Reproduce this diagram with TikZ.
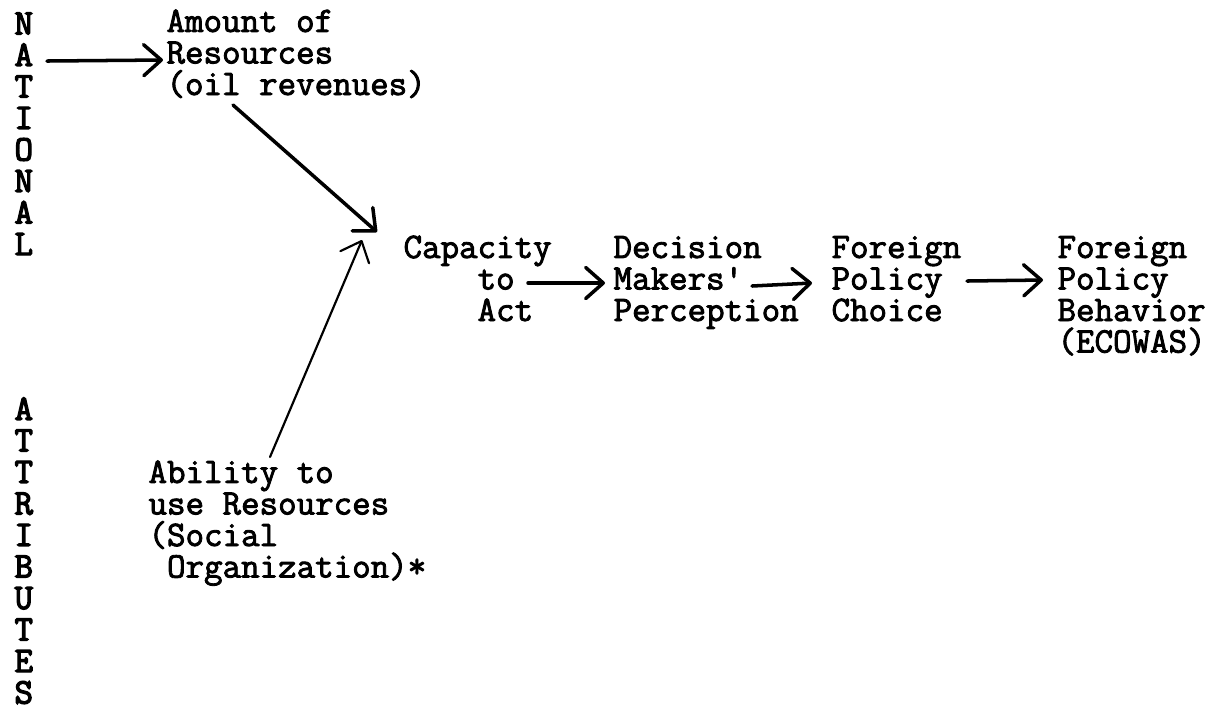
\documentclass[tikz,border=0pt]{standalone}
\usepackage{fontspec}
\newfontfamily\typewr{Latin Modern Mono}[FakeBold=2.4]
\newfontfamily\typewrheavy{Latin Modern Mono}[FakeBold=3.6]
\usetikzlibrary{arrows.meta}

\begin{document}
\begin{tikzpicture}[
  x=0.37pt, y=-0.37pt,
  txt/.style  = {anchor=base west, align=left, inner sep=0pt,
                 font=\typewr\fontsize{13.3pt}{11.66pt}\selectfont},
  vert/.style = {txt, align=center,
                 font=\typewrheavy\fontsize{13.3pt}{11.66pt}\selectfont},
  arr/.style  = {-{Straight Barb[length=6.5pt, width=11.5pt, round]},
                 line width=1.3pt, line cap=round},
  thinarr/.style = {arr, line width=0.8pt},
]
  \useasboundingbox (0,0) rectangle (1223,710);

  % side labels (placed at the baseline of their last line)
  \node[vert] (nat)  at (14,255)   {N\\A\\T\\I\\O\\N\\A\\L};
  \node[vert] (attr) at (14,703.5) {A\\T\\T\\R\\I\\B\\U\\T\\E\\S};

  % boxes of text
  \node[txt] (amount)  at (166,95)    {Amount of\\Resources\\(oil revenues)};
  \node[txt] (ability) at (148,577.5) {Ability to\\use Resources\\(Social\\\phantom{x}Organization)*};
  \node[txt] (cap) at (403,321)    {Capacity\\\phantom{Capa}to\\\phantom{Capa}Act};
  \node[txt] (dmp) at (613,321)    {Decision\\Makers'\\Perception};
  \node[txt] (fpc) at (831,321)    {Foreign\\Policy\\Choice};
  \node[txt] (fpb) at (1057,352.5) {Foreign\\Policy\\Behavior\\(ECOWAS)};

  % arrow ends
  \coordinate (natA)  at (47,61);
  \coordinate (resW)  at (163,60);
  \coordinate (oilS)  at (233,105);
  \coordinate (meet1) at (377,232);
  \coordinate (ablN)  at (270,457);
  \coordinate (meet2) at (362,240);
  \coordinate (capE)  at (528,283);
  \coordinate (dmpW)  at (605,283);
  \coordinate (dmpE)  at (752,286);
  \coordinate (fpcW)  at (812,283);
  \coordinate (fpcE)  at (967,281);
  \coordinate (fpbW)  at (1043,280);

  \draw[arr] (natA) -- (resW);
  \draw[arr] (oilS) -- (meet1);
  \draw[thinarr] (ablN) -- (meet2);
  \draw[arr] (capE) -- (dmpW);
  \draw[arr] (dmpE) -- (fpcW);
  \draw[arr] (fpcE) -- (fpbW);
\end{tikzpicture}
\end{document}
